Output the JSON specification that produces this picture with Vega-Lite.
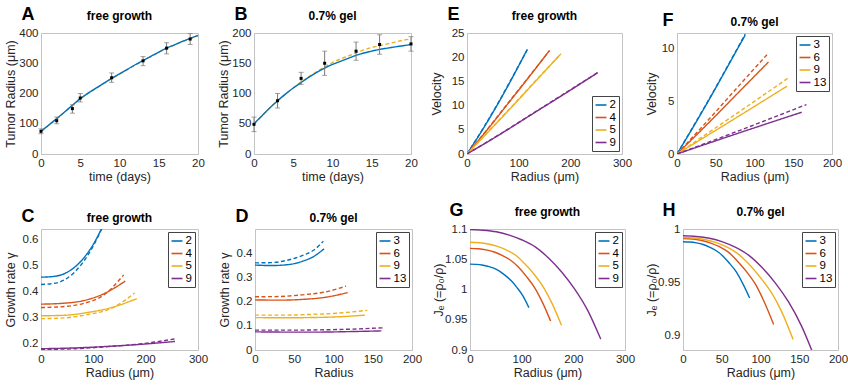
{
"$schema":"https://vega.github.io/schema/vega-lite/v6.json",
"padding":{"left":3,"top":5,"right":5,"bottom":5},
"config":{
 "font":"Liberation Sans",
 "view":{"stroke":"#c4c4c4","strokeWidth":1},
 "axis":{"grid":false,"ticks":false,"domainColor":"#c4c4c4","labelColor":"#262626","titleColor":"#262626","labelFontSize":11.5,"titleFontSize":12.5,"titleFontWeight":"normal","labelPadding":3,"titlePadding":2,"labelFlush":false,"labelOverlap":false},
 "legend":{"offset":3,"padding":2.5,"fillColor":"white","strokeColor":"#444","symbolType":"stroke","symbolSize":120,"symbolStrokeWidth":1.6,"labelFontSize":11.5,"labelColor":"#000","labelOffset":2,"rowPadding":0.5},
 "title":{"fontSize":12,"fontWeight":"bold","color":"#000","offset":4}
},
"datasets":{
 "Aline":[
  {"s":"fit","t":0,"y":75},{"s":"fit","t":1,"y":96},{"s":"fit","t":2,"y":117},{"s":"fit","t":3,"y":139},{"s":"fit","t":4,"y":161},{"s":"fit","t":5,"y":183},{"s":"fit","t":6,"y":201},{"s":"fit","t":7,"y":218},{"s":"fit","t":8,"y":234},{"s":"fit","t":9,"y":250},{"s":"fit","t":10,"y":265},{"s":"fit","t":11,"y":280},{"s":"fit","t":12,"y":295},{"s":"fit","t":13,"y":309},{"s":"fit","t":14,"y":323},{"s":"fit","t":15,"y":337},{"s":"fit","t":16,"y":350},{"s":"fit","t":17,"y":361},{"s":"fit","t":18,"y":372},{"s":"fit","t":19,"y":382},{"s":"fit","t":20,"y":392},
  {"s":"model","t":0,"y":74},{"s":"model","t":1,"y":95},{"s":"model","t":2,"y":116},{"s":"model","t":3,"y":138},{"s":"model","t":4,"y":160},{"s":"model","t":5,"y":182},{"s":"model","t":6,"y":200},{"s":"model","t":7,"y":217},{"s":"model","t":8,"y":233},{"s":"model","t":9,"y":249},{"s":"model","t":10,"y":264},{"s":"model","t":11,"y":279},{"s":"model","t":12,"y":294},{"s":"model","t":13,"y":308},{"s":"model","t":14,"y":322},{"s":"model","t":15,"y":336},{"s":"model","t":16,"y":349},{"s":"model","t":17,"y":360},{"s":"model","t":18,"y":371},{"s":"model","t":19,"y":381},{"s":"model","t":20,"y":391}
 ],
 "Apts":[
  {"t":0,"y":75,"lo":67,"hi":83},{"t":2,"y":110,"lo":100,"hi":122},{"t":4,"y":150,"lo":135,"hi":163},{"t":5,"y":185,"lo":172,"hi":200},{"t":9,"y":252,"lo":237,"hi":268},{"t":13,"y":308,"lo":292,"hi":322},{"t":16,"y":350,"lo":331,"hi":368},{"t":19,"y":380,"lo":362,"hi":398}
 ],
 "Bline":[
  {"s":"fit","t":0,"y":50},{"s":"fit","t":1,"y":63},{"s":"fit","t":2,"y":76},{"s":"fit","t":3,"y":88},{"s":"fit","t":4,"y":99},{"s":"fit","t":5,"y":109},{"s":"fit","t":6,"y":118},{"s":"fit","t":7,"y":127},{"s":"fit","t":8,"y":135},{"s":"fit","t":9,"y":142},{"s":"fit","t":10,"y":148},{"s":"fit","t":11,"y":153},{"s":"fit","t":12,"y":158},{"s":"fit","t":13,"y":163},{"s":"fit","t":14,"y":167},{"s":"fit","t":15,"y":170},{"s":"fit","t":16,"y":173},{"s":"fit","t":17,"y":175},{"s":"fit","t":18,"y":177},{"s":"fit","t":19,"y":179},{"s":"fit","t":20,"y":181},
  {"s":"model","t":0,"y":50},{"s":"model","t":1,"y":63},{"s":"model","t":2,"y":76},{"s":"model","t":3,"y":88},{"s":"model","t":4,"y":99},{"s":"model","t":5,"y":109},{"s":"model","t":6,"y":119},{"s":"model","t":7,"y":128},{"s":"model","t":8,"y":136},{"s":"model","t":9,"y":144},{"s":"model","t":10,"y":151},{"s":"model","t":11,"y":157},{"s":"model","t":12,"y":162},{"s":"model","t":13,"y":167},{"s":"model","t":14,"y":172},{"s":"model","t":15,"y":176},{"s":"model","t":16,"y":179},{"s":"model","t":17,"y":182},{"s":"model","t":18,"y":185},{"s":"model","t":19,"y":188},{"s":"model","t":20,"y":190}
 ],
 "Bpts":[
  {"t":0,"y":49,"lo":37,"hi":61},{"t":3,"y":88,"lo":76,"hi":100},{"t":6,"y":125,"lo":115,"hi":135},{"t":9,"y":150,"lo":130,"hi":170},{"t":13,"y":170,"lo":155,"hi":185},{"t":16,"y":181,"lo":165,"hi":197},{"t":20,"y":182,"lo":170,"hi":194}
 ],
 "C":[
  {"g":"2","s":"solid","x":0,"y":0.454},{"g":"2","s":"solid","x":25,"y":0.457},{"g":"2","s":"solid","x":50,"y":0.473},{"g":"2","s":"solid","x":80,"y":0.524},{"g":"2","s":"solid","x":100,"y":0.581},{"g":"2","s":"solid","x":115,"y":0.638},
  {"g":"2","s":"dashed","x":0,"y":0.426},{"g":"2","s":"dashed","x":25,"y":0.43},{"g":"2","s":"dashed","x":50,"y":0.45},{"g":"2","s":"dashed","x":80,"y":0.511},{"g":"2","s":"dashed","x":100,"y":0.575},{"g":"2","s":"dashed","x":117,"y":0.645},
  {"g":"4","s":"solid","x":0,"y":0.35},{"g":"4","s":"solid","x":40,"y":0.353},{"g":"4","s":"solid","x":80,"y":0.363},{"g":"4","s":"solid","x":120,"y":0.39},{"g":"4","s":"solid","x":161,"y":0.439},
  {"g":"4","s":"dashed","x":0,"y":0.337},{"g":"4","s":"dashed","x":40,"y":0.34},{"g":"4","s":"dashed","x":80,"y":0.352},{"g":"4","s":"dashed","x":120,"y":0.385},{"g":"4","s":"dashed","x":158,"y":0.463},
  {"g":"5","s":"solid","x":0,"y":0.305},{"g":"5","s":"solid","x":45,"y":0.307},{"g":"5","s":"solid","x":90,"y":0.318},{"g":"5","s":"solid","x":135,"y":0.337},{"g":"5","s":"solid","x":183,"y":0.371},
  {"g":"5","s":"dashed","x":0,"y":0.294},{"g":"5","s":"dashed","x":45,"y":0.297},{"g":"5","s":"dashed","x":90,"y":0.31},{"g":"5","s":"dashed","x":135,"y":0.334},{"g":"5","s":"dashed","x":179,"y":0.393},
  {"g":"9","s":"solid","x":0,"y":0.178},{"g":"9","s":"solid","x":64,"y":0.181},{"g":"9","s":"solid","x":128,"y":0.187},{"g":"9","s":"solid","x":192,"y":0.195},{"g":"9","s":"solid","x":256,"y":0.206},
  {"g":"9","s":"dashed","x":0,"y":0.175},{"g":"9","s":"dashed","x":64,"y":0.178},{"g":"9","s":"dashed","x":128,"y":0.186},{"g":"9","s":"dashed","x":192,"y":0.197},{"g":"9","s":"dashed","x":256,"y":0.216}
 ],
 "D":[
  {"g":"3","s":"solid","x":0,"y":0.351},{"g":"3","s":"solid","x":20,"y":0.349},{"g":"3","s":"solid","x":40,"y":0.352},{"g":"3","s":"solid","x":60,"y":0.366},{"g":"3","s":"solid","x":75,"y":0.387},{"g":"3","s":"solid","x":88,"y":0.418},
  {"g":"3","s":"dashed","x":0,"y":0.36},{"g":"3","s":"dashed","x":20,"y":0.361},{"g":"3","s":"dashed","x":40,"y":0.37},{"g":"3","s":"dashed","x":60,"y":0.39},{"g":"3","s":"dashed","x":75,"y":0.413},{"g":"3","s":"dashed","x":87,"y":0.449},
  {"g":"6","s":"solid","x":0,"y":0.207},{"g":"6","s":"solid","x":30,"y":0.206},{"g":"6","s":"solid","x":60,"y":0.209},{"g":"6","s":"solid","x":90,"y":0.218},{"g":"6","s":"solid","x":118,"y":0.237},
  {"g":"6","s":"dashed","x":0,"y":0.22},{"g":"6","s":"dashed","x":30,"y":0.221},{"g":"6","s":"dashed","x":60,"y":0.228},{"g":"6","s":"dashed","x":90,"y":0.24},{"g":"6","s":"dashed","x":116,"y":0.264},
  {"g":"9","s":"solid","x":0,"y":0.134},{"g":"9","s":"solid","x":35,"y":0.133},{"g":"9","s":"solid","x":70,"y":0.134},{"g":"9","s":"solid","x":105,"y":0.137},{"g":"9","s":"solid","x":140,"y":0.144},
  {"g":"9","s":"dashed","x":0,"y":0.144},{"g":"9","s":"dashed","x":35,"y":0.144},{"g":"9","s":"dashed","x":70,"y":0.147},{"g":"9","s":"dashed","x":105,"y":0.152},{"g":"9","s":"dashed","x":143,"y":0.164},
  {"g":"13","s":"solid","x":0,"y":0.075},{"g":"13","s":"solid","x":40,"y":0.074},{"g":"13","s":"solid","x":80,"y":0.074},{"g":"13","s":"solid","x":120,"y":0.076},{"g":"13","s":"solid","x":161,"y":0.079},
  {"g":"13","s":"dashed","x":0,"y":0.082},{"g":"13","s":"dashed","x":40,"y":0.082},{"g":"13","s":"dashed","x":80,"y":0.083},{"g":"13","s":"dashed","x":120,"y":0.086},{"g":"13","s":"dashed","x":165,"y":0.092}
 ],
 "E":[
  {"g":"2","s":"solid","x":0,"y":0},{"g":"2","s":"solid","x":30,"y":5},{"g":"2","s":"solid","x":60,"y":10.4},{"g":"2","s":"solid","x":90,"y":16.2},{"g":"2","s":"solid","x":116,"y":21.5},
  {"g":"2","s":"dashed","x":0,"y":0},{"g":"2","s":"dashed","x":30,"y":5.1},{"g":"2","s":"dashed","x":60,"y":10.5},{"g":"2","s":"dashed","x":90,"y":16.3},{"g":"2","s":"dashed","x":117,"y":21.6},
  {"g":"4","s":"solid","x":0,"y":0},{"g":"4","s":"solid","x":40,"y":5.1},{"g":"4","s":"solid","x":80,"y":10.5},{"g":"4","s":"solid","x":120,"y":15.9},{"g":"4","s":"solid","x":159,"y":21.3},
  {"g":"4","s":"dashed","x":0,"y":0},{"g":"4","s":"dashed","x":40,"y":5.2},{"g":"4","s":"dashed","x":80,"y":10.6},{"g":"4","s":"dashed","x":120,"y":16},{"g":"4","s":"dashed","x":160,"y":21.4},
  {"g":"5","s":"solid","x":0,"y":0},{"g":"5","s":"solid","x":45,"y":5},{"g":"5","s":"solid","x":90,"y":10.1},{"g":"5","s":"solid","x":135,"y":15.3},{"g":"5","s":"solid","x":181,"y":20.6},
  {"g":"5","s":"dashed","x":0,"y":0},{"g":"5","s":"dashed","x":45,"y":5.1},{"g":"5","s":"dashed","x":90,"y":10.2},{"g":"5","s":"dashed","x":135,"y":15.4},{"g":"5","s":"dashed","x":182,"y":20.7},
  {"g":"9","s":"solid","x":0,"y":0},{"g":"9","s":"solid","x":63,"y":4},{"g":"9","s":"solid","x":127,"y":8.3},{"g":"9","s":"solid","x":190,"y":12.5},{"g":"9","s":"solid","x":253,"y":16.8},
  {"g":"9","s":"dashed","x":0,"y":0},{"g":"9","s":"dashed","x":63,"y":4.05},{"g":"9","s":"dashed","x":127,"y":8.35},{"g":"9","s":"dashed","x":190,"y":12.6},{"g":"9","s":"dashed","x":254,"y":16.9}
 ],
 "F":[
  {"g":"3","s":"solid","x":0,"y":0},{"g":"3","s":"solid","x":22,"y":2.7},{"g":"3","s":"solid","x":44,"y":5.5},{"g":"3","s":"solid","x":66,"y":8.4},{"g":"3","s":"solid","x":88,"y":11.3},
  {"g":"3","s":"dashed","x":0,"y":0},{"g":"3","s":"dashed","x":22,"y":2.75},{"g":"3","s":"dashed","x":44,"y":5.55},{"g":"3","s":"dashed","x":66,"y":8.45},{"g":"3","s":"dashed","x":88,"y":11.4},
  {"g":"6","s":"solid","x":0,"y":0},{"g":"6","s":"solid","x":40,"y":2.9},{"g":"6","s":"solid","x":80,"y":5.9},{"g":"6","s":"solid","x":118,"y":8.74},
  {"g":"6","s":"dashed","x":0,"y":0},{"g":"6","s":"dashed","x":40,"y":3.2},{"g":"6","s":"dashed","x":80,"y":6.5},{"g":"6","s":"dashed","x":118,"y":9.6},
  {"g":"9","s":"solid","x":0,"y":0},{"g":"9","s":"solid","x":71,"y":3.2},{"g":"9","s":"solid","x":142,"y":6.45},
  {"g":"9","s":"dashed","x":0,"y":0},{"g":"9","s":"dashed","x":72,"y":3.6},{"g":"9","s":"dashed","x":145,"y":7.3},
  {"g":"13","s":"solid","x":0,"y":0},{"g":"13","s":"solid","x":80,"y":2},{"g":"13","s":"solid","x":161,"y":3.97},
  {"g":"13","s":"dashed","x":0,"y":0},{"g":"13","s":"dashed","x":83,"y":2.3},{"g":"13","s":"dashed","x":167,"y":4.7}
 ],
 "G":[
  {"g":"2","x":0,"y":1.042},{"g":"2","x":11,"y":1.0416},{"g":"2","x":23,"y":1.0406},{"g":"2","x":34,"y":1.0384},{"g":"2","x":46,"y":1.0352},{"g":"2","x":57,"y":1.0305},{"g":"2","x":68,"y":1.0233},{"g":"2","x":80,"y":1.0143},{"g":"2","x":91,"y":1.0031},{"g":"2","x":103,"y":0.9887},{"g":"2","x":114,"y":0.97},
  {"g":"4","x":0,"y":1.068},{"g":"4","x":16,"y":1.0674},{"g":"4","x":31,"y":1.0656},{"g":"4","x":47,"y":1.062},{"g":"4","x":62,"y":1.0566},{"g":"4","x":78,"y":1.0488},{"g":"4","x":94,"y":1.0368},{"g":"4","x":109,"y":1.0218},{"g":"4","x":125,"y":1.0032},{"g":"4","x":140,"y":0.9792},{"g":"4","x":156,"y":0.948},
  {"g":"5","x":0,"y":1.078},{"g":"5","x":18,"y":1.0773},{"g":"5","x":35,"y":1.0753},{"g":"5","x":53,"y":1.0712},{"g":"5","x":71,"y":1.065},{"g":"5","x":89,"y":1.0561},{"g":"5","x":106,"y":1.0424},{"g":"5","x":124,"y":1.0253},{"g":"5","x":142,"y":1.004},{"g":"5","x":159,"y":0.9766},{"g":"5","x":177,"y":0.941},
  {"g":"9","x":0,"y":1.099},{"g":"9","x":25,"y":1.098},{"g":"9","x":51,"y":1.0954},{"g":"9","x":76,"y":1.09},{"g":"9","x":101,"y":1.0818},{"g":"9","x":127,"y":1.07},{"g":"9","x":152,"y":1.052},{"g":"9","x":177,"y":1.0293},{"g":"9","x":202,"y":1.0013},{"g":"9","x":228,"y":0.965},{"g":"9","x":253,"y":0.918}
 ],
 "H":[
  {"g":"3","x":0,"y":0.988},{"g":"3","x":9,"y":0.9877},{"g":"3","x":17,"y":0.9869},{"g":"3","x":26,"y":0.9854},{"g":"3","x":34,"y":0.983},{"g":"3","x":43,"y":0.9795},{"g":"3","x":52,"y":0.9742},{"g":"3","x":60,"y":0.9676},{"g":"3","x":69,"y":0.9594},{"g":"3","x":77,"y":0.9488},{"g":"3","x":86,"y":0.935},
  {"g":"6","x":0,"y":0.991},{"g":"6","x":12,"y":0.9906},{"g":"6","x":23,"y":0.9894},{"g":"6","x":35,"y":0.987},{"g":"6","x":47,"y":0.9833},{"g":"6","x":59,"y":0.978},{"g":"6","x":70,"y":0.9699},{"g":"6","x":82,"y":0.9598},{"g":"6","x":94,"y":0.9473},{"g":"6","x":105,"y":0.931},{"g":"6","x":117,"y":0.91},
  {"g":"9","x":0,"y":0.992},{"g":"9","x":14,"y":0.9915},{"g":"9","x":28,"y":0.9901},{"g":"9","x":43,"y":0.9872},{"g":"9","x":57,"y":0.9829},{"g":"9","x":71,"y":0.9766},{"g":"9","x":85,"y":0.967},{"g":"9","x":99,"y":0.955},{"g":"9","x":114,"y":0.9402},{"g":"9","x":128,"y":0.921},{"g":"9","x":142,"y":0.896},
  {"g":"13","x":0,"y":0.9936},{"g":"13","x":17,"y":0.993},{"g":"13","x":34,"y":0.9913},{"g":"13","x":51,"y":0.9879},{"g":"13","x":68,"y":0.9827},{"g":"13","x":85,"y":0.9752},{"g":"13","x":102,"y":0.9637},{"g":"13","x":119,"y":0.9493},{"g":"13","x":136,"y":0.9315},{"g":"13","x":153,"y":0.9085},{"g":"13","x":170,"y":0.8786}
 ]
},
"resolve":{"scale":{"color":"independent","strokeDash":"independent"}},
"spacing":17,
"vconcat":[
 {"resolve":{"scale":{"color":"independent","strokeDash":"independent"}},
  "spacing":11,
  "hconcat":[
  {"title":{"text":"A","anchor":"start","fontSize":18,"dx":18,"dy":14,"offset":0},
   "resolve":{"scale":{"color":"independent","strokeDash":"independent"}},
   "vconcat":[{
    "title":"free growth","width":157,"height":121,
    "layer":[
     {"data":{"name":"Aline"},"transform":[{"filter":"datum.s == 'model'"}],
      "mark":{"type":"line","color":"#EDB120","strokeWidth":1.4,"strokeDash":[4,2.5],"interpolate":"monotone"},
      "encoding":{"x":{"field":"t","type":"quantitative","scale":{"domain":[0,20],"nice":false},"axis":{"values":[0,5,10,15,20]},"title":"time (days)"},
                  "y":{"field":"y","type":"quantitative","scale":{"domain":[0,400],"nice":false},"axis":{"values":[0,100,200,300,400],"minExtent":22,"maxExtent":22},"title":"Tumor Radius (μm)"}}},
     {"data":{"name":"Aline"},"transform":[{"filter":"datum.s == 'fit'"}],
      "mark":{"type":"line","color":"#0072BD","strokeWidth":1.4,"interpolate":"monotone"},
      "encoding":{"x":{"field":"t","type":"quantitative","scale":{"domain":[0,20],"nice":false},"axis":{"values":[0,5,10,15,20]},"title":"time (days)"},
                  "y":{"field":"y","type":"quantitative","scale":{"domain":[0,400],"nice":false},"axis":{"values":[0,100,200,300,400],"minExtent":22,"maxExtent":22},"title":"Tumor Radius (μm)"}}},
     {"data":{"name":"Apts"},
      "mark":{"type":"errorbar","ticks":{"size":5},"color":"#7a7a7a"},
      "encoding":{"x":{"field":"t","type":"quantitative","scale":{"domain":[0,20],"nice":false},"axis":{"values":[0,5,10,15,20]},"title":"time (days)"},
                  "y":{"field":"lo","type":"quantitative","scale":{"domain":[0,400],"nice":false},"axis":{"values":[0,100,200,300,400],"minExtent":22,"maxExtent":22},"title":"Tumor Radius (μm)"},"y2":{"field":"hi"}}},
     {"data":{"name":"Apts"},
      "mark":{"type":"point","shape":"square","filled":true,"color":"#000","size":9,"opacity":1},
      "encoding":{"x":{"field":"t","type":"quantitative","scale":{"domain":[0,20],"nice":false},"axis":{"values":[0,5,10,15,20]},"title":"time (days)"},
                  "y":{"field":"y","type":"quantitative","scale":{"domain":[0,400],"nice":false},"axis":{"values":[0,100,200,300,400],"minExtent":22,"maxExtent":22},"title":"Tumor Radius (μm)"}}}
    ]}]},
  {"title":{"text":"B","anchor":"start","fontSize":18,"dx":18,"dy":14,"offset":0},
   "resolve":{"scale":{"color":"independent","strokeDash":"independent"}},
   "vconcat":[{
    "title":"0.7% gel","width":157,"height":121,
    "layer":[
     {"data":{"name":"Bline"},"transform":[{"filter":"datum.s == 'model'"}],
      "mark":{"type":"line","color":"#EDB120","strokeWidth":1.4,"strokeDash":[4,2.5],"interpolate":"monotone"},
      "encoding":{"x":{"field":"t","type":"quantitative","scale":{"domain":[0,20],"nice":false},"axis":{"values":[0,5,10,15,20]},"title":"time (days)"},
                  "y":{"field":"y","type":"quantitative","scale":{"domain":[0,200],"nice":false},"axis":{"values":[0,50,100,150,200],"minExtent":22,"maxExtent":22},"title":"Tumor Radius (μm)"}}},
     {"data":{"name":"Bline"},"transform":[{"filter":"datum.s == 'fit'"}],
      "mark":{"type":"line","color":"#0072BD","strokeWidth":1.4,"interpolate":"monotone"},
      "encoding":{"x":{"field":"t","type":"quantitative","scale":{"domain":[0,20],"nice":false},"axis":{"values":[0,5,10,15,20]},"title":"time (days)"},
                  "y":{"field":"y","type":"quantitative","scale":{"domain":[0,200],"nice":false},"axis":{"values":[0,50,100,150,200],"minExtent":22,"maxExtent":22},"title":"Tumor Radius (μm)"}}},
     {"data":{"name":"Bpts"},
      "mark":{"type":"errorbar","ticks":{"size":5},"color":"#7a7a7a"},
      "encoding":{"x":{"field":"t","type":"quantitative","scale":{"domain":[0,20],"nice":false},"axis":{"values":[0,5,10,15,20]},"title":"time (days)"},
                  "y":{"field":"lo","type":"quantitative","scale":{"domain":[0,200],"nice":false},"axis":{"values":[0,50,100,150,200],"minExtent":22,"maxExtent":22},"title":"Tumor Radius (μm)"},"y2":{"field":"hi"}}},
     {"data":{"name":"Bpts"},
      "mark":{"type":"point","shape":"square","filled":true,"color":"#000","size":9,"opacity":1},
      "encoding":{"x":{"field":"t","type":"quantitative","scale":{"domain":[0,20],"nice":false},"axis":{"values":[0,5,10,15,20]},"title":"time (days)"},
                  "y":{"field":"y","type":"quantitative","scale":{"domain":[0,200],"nice":false},"axis":{"values":[0,50,100,150,200],"minExtent":22,"maxExtent":22},"title":"Tumor Radius (μm)"}}}
    ]}]},
  {"title":{"text":"E","anchor":"start","fontSize":18,"dx":18,"dy":14,"offset":0},
   "resolve":{"scale":{"color":"independent","strokeDash":"independent"}},
   "vconcat":[{
    "title":"free growth","width":155,"height":121,
    "data":{"name":"E"},
    "mark":{"type":"line","strokeWidth":1.4,"interpolate":"monotone","clip":true},
    "encoding":{
     "x":{"field":"x","type":"quantitative","scale":{"domain":[0,300],"nice":false},"axis":{"values":[0,100,200,300]},"title":"Radius (μm)"},
     "y":{"field":"y","type":"quantitative","scale":{"domain":[0,25],"nice":false},"axis":{"values":[0,5,10,15,20,25],"minExtent":22,"maxExtent":22},"title":"Velocity"},
     "color":{"field":"g","type":"nominal","scale":{"domain":["2","4","5","9"],"range":["#0072BD","#D95319","#EDB120","#7E2F8E"]},"legend":{"orient":"bottom-right","title":null}},
     "strokeDash":{"field":"s","type":"nominal","scale":{"domain":["solid","dashed"],"range":[[1,0],[4,2.5]]},"legend":null}
    }}]},
  {"title":{"text":"F","anchor":"start","fontSize":18,"dx":18,"dy":14,"offset":0},
   "resolve":{"scale":{"color":"independent","strokeDash":"independent"}},
   "vconcat":[{
    "title":"0.7% gel","width":155,"height":121,
    "data":{"name":"F"},
    "mark":{"type":"line","strokeWidth":1.4,"interpolate":"monotone","clip":true},
    "encoding":{
     "x":{"field":"x","type":"quantitative","scale":{"domain":[0,200],"nice":false},"axis":{"values":[0,50,100,150,200]},"title":"Radius (μm)"},
     "y":{"field":"y","type":"quantitative","scale":{"domain":[0,11.5],"nice":false},"axis":{"values":[0,5,10],"minExtent":17,"maxExtent":17},"title":"Velocity"},
     "color":{"field":"g","type":"nominal","scale":{"domain":["3","6","9","13"],"range":["#0072BD","#D95319","#EDB120","#7E2F8E"]},"legend":{"orient":"top-right","title":null}},
     "strokeDash":{"field":"s","type":"nominal","scale":{"domain":["solid","dashed"],"range":[[1,0],[4,2.5]]},"legend":null}
    }}]}
 ]},
 {"resolve":{"scale":{"color":"independent","strokeDash":"independent"}},
  "spacing":8,
  "hconcat":[
  {"title":{"text":"C","anchor":"start","fontSize":18,"dx":18,"dy":14,"offset":0},
   "resolve":{"scale":{"color":"independent","strokeDash":"independent"}},
   "vconcat":[{
    "title":"free growth","width":157,"height":121,
    "data":{"name":"C"},
    "mark":{"type":"line","strokeWidth":1.4,"interpolate":"monotone","clip":true},
    "encoding":{
     "x":{"field":"x","type":"quantitative","scale":{"domain":[0,300],"nice":false},"axis":{"values":[0,100,200,300]},"title":"Radius (μm)"},
     "y":{"field":"y","type":"quantitative","scale":{"domain":[0.173,0.64],"nice":false,"zero":false},"axis":{"values":[0.2,0.3,0.4,0.5,0.6],"format":".1f","minExtent":22,"maxExtent":22},"title":"Growth rate γ"},
     "color":{"field":"g","type":"nominal","scale":{"domain":["2","4","5","9"],"range":["#0072BD","#D95319","#EDB120","#7E2F8E"]},"legend":{"orient":"top-right","title":null}},
     "strokeDash":{"field":"s","type":"nominal","scale":{"domain":["solid","dashed"],"range":[[1,0],[4,2.5]]},"legend":null}
    }}]},
  {"title":{"text":"D","anchor":"start","fontSize":18,"dx":18,"dy":14,"offset":0},
   "resolve":{"scale":{"color":"independent","strokeDash":"independent"}},
   "vconcat":[{
    "title":"0.7% gel","width":157,"height":121,
    "data":{"name":"D"},
    "mark":{"type":"line","strokeWidth":1.4,"interpolate":"monotone","clip":true},
    "encoding":{
     "x":{"field":"x","type":"quantitative","scale":{"domain":[0,200],"nice":false},"axis":{"values":[0,50,100,150,200]},"title":"Radius"},
     "y":{"field":"y","type":"quantitative","scale":{"domain":[0,0.5],"nice":false},"axis":{"values":[0,0.1,0.2,0.3,0.4],"format":".1~f","minExtent":22,"maxExtent":22},"title":"Growth rate γ"},
     "color":{"field":"g","type":"nominal","scale":{"domain":["3","6","9","13"],"range":["#0072BD","#D95319","#EDB120","#7E2F8E"]},"legend":{"orient":"top-right","title":null}},
     "strokeDash":{"field":"s","type":"nominal","scale":{"domain":["solid","dashed"],"range":[[1,0],[4,2.5]]},"legend":null}
    }}]},
  {"title":{"text":"G","anchor":"start","fontSize":18,"dx":18,"dy":14,"offset":0},
   "resolve":{"scale":{"color":"independent"}},
   "vconcat":[{
    "title":"free growth","width":155,"height":121,
    "data":{"name":"G"},
    "mark":{"type":"line","strokeWidth":1.4,"interpolate":"monotone","clip":true},
    "encoding":{
     "x":{"field":"x","type":"quantitative","scale":{"domain":[0,300],"nice":false},"axis":{"values":[0,100,200,300]},"title":"Radius (μm)"},
     "y":{"field":"y","type":"quantitative","scale":{"domain":[0.9,1.1],"nice":false,"zero":false},"axis":{"values":[0.9,0.95,1,1.05,1.1],"format":".2~f","minExtent":24,"maxExtent":24,"titlePadding":1},"title":"Jₑ (=ρ₀/ρ)"},
     "color":{"field":"g","type":"nominal","scale":{"domain":["2","4","5","9"],"range":["#0072BD","#D95319","#EDB120","#7E2F8E"]},"legend":{"orient":"top-right","title":null}}
    }}]},
  {"title":{"text":"H","anchor":"start","fontSize":18,"dx":18,"dy":14,"offset":0},
   "resolve":{"scale":{"color":"independent"}},
   "vconcat":[{
    "title":"0.7% gel","width":155,"height":121,
    "data":{"name":"H"},
    "mark":{"type":"line","strokeWidth":1.4,"interpolate":"monotone","clip":true},
    "encoding":{
     "x":{"field":"x","type":"quantitative","scale":{"domain":[0,200],"nice":false},"axis":{"values":[0,50,100,150,200]},"title":"Radius (μm)"},
     "y":{"field":"y","type":"quantitative","scale":{"domain":[0.886,1.0],"nice":false,"zero":false},"axis":{"values":[0.9,0.95,1],"format":".2~f","minExtent":24,"maxExtent":24,"titlePadding":1},"title":"Jₑ (=ρ₀/ρ)"},
     "color":{"field":"g","type":"nominal","scale":{"domain":["3","6","9","13"],"range":["#0072BD","#D95319","#EDB120","#7E2F8E"]},"legend":{"orient":"top-right","title":null}}
    }}]}
 ]}
]
}
